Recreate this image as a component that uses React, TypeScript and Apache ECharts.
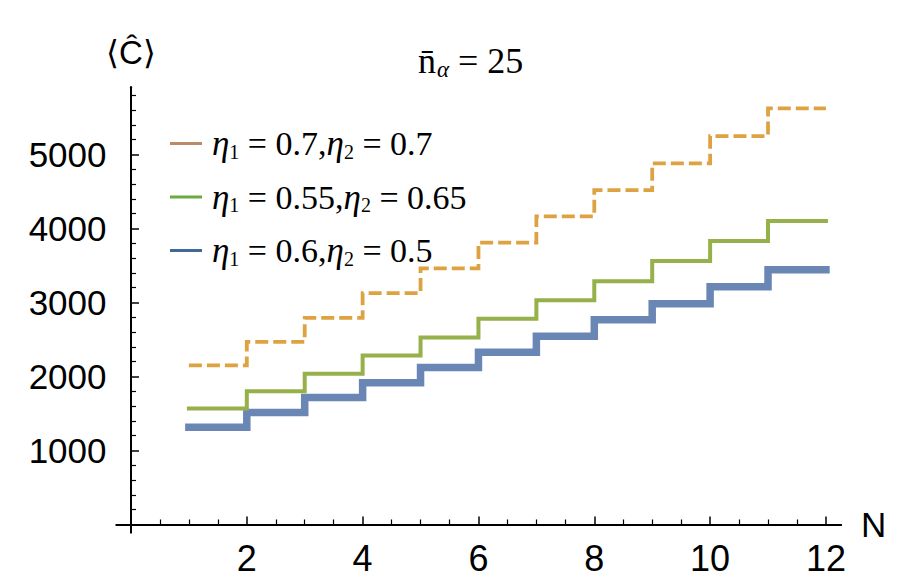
import React, { useEffect, useRef } from "react";
import * as echarts from "echarts";

// Step boundaries (N) and the value held on each step [N, N+1)
const stepN = [1, 2, 3, 4, 5, 6, 7, 8, 9, 10, 11, 12];
const seriesA = [2149, 2468, 2793, 3126, 3462, 3808, 4164, 4520, 4880, 5250, 5624]; // η1=0.7, η2=0.7
const seriesB = [1568, 1802, 2036, 2284, 2527, 2779, 3032, 3288, 3560, 3831, 4101]; // η1=0.55, η2=0.65
const seriesC = [1315, 1514, 1716, 1914, 2122, 2329, 2545, 2766, 2982, 3212, 3443]; // η1=0.6, η2=0.5

const legendEta = [
  ["0.7", "0.7"],
  ["0.55", "0.65"],
  ["0.6", "0.5"],
];
const seriesNames = ["A", "B", "C"];

const xTickLabels = [2, 4, 6, 8, 10, 12];
const yTickLabels = [1000, 2000, 3000, 4000, 5000];

const X_MIN = -0.25;
const X_MAX = 12.26;
const Y_MIN = -110;
const Y_MAX = 5910;

function stepData(values: number[]) {
  const d = values.map((v, i) => [stepN[i], v]);
  d.push([stepN[stepN.length - 1], values[values.length - 1]]);
  return d;
}

const xMinor: number[] = [];
for (let v = 0.5; v < 12; v += 0.5) if (v % 2 !== 0) xMinor.push(v);
const yMinor: number[] = [];
for (let v = 200; v < 5900; v += 200) if (v % 1000 !== 0) yMinor.push(v);

const SANS = "'Liberation Sans', Arial, Helvetica, sans-serif";
const SERIF = "'Liberation Serif', 'Times New Roman', serif";

export default function App() {
  const ref = useRef<HTMLDivElement>(null);
  useEffect(() => {
    if (!ref.current) return;
    const chart = echarts.init(ref.current, undefined, { renderer: "svg" });
    const gridPos = { left: 116.5, right: 63, top: 87.2, bottom: 49.4 };
    const axisLineStyle = { color: "#000", width: 2 };
    const option: any = {
      animation: false,
      backgroundColor: "#fff",
      title: {
        text: "{n|n\u0304}{a|α}{e| = 25}",
        left: 413,
        top: 35,
        textStyle: {
          fontWeight: "normal",
          rich: {
            n: { fontFamily: SERIF, fontSize: 36, fontWeight: "normal", color: "#000" },
            a: { fontFamily: SERIF, fontStyle: "italic", fontWeight: "normal", fontSize: 23, color: "#000", padding: [18, 0, 0, 1], verticalAlign: "bottom" },
            e: { fontFamily: SERIF, fontSize: 36, fontWeight: "normal", color: "#000" },
          },
        },
      },
      legend: {
        orient: "vertical",
        left: 165,
        top: 121,
        itemWidth: 32,
        itemHeight: 3,
        itemGap: 18,
        icon: "rect",
        selectedMode: false,
        data: [
          { name: "A", itemStyle: { color: "#B98B69" } },
          { name: "B", itemStyle: { color: "#6BAA3C" } },
          { name: "C", itemStyle: { color: "#3F6A97" } },
        ],
        formatter: (name: string) => {
          const i = seriesNames.indexOf(name);
          const [a, b] = legendEta[i];
          return `{e|η}{s|1}{t| = ${a},}{e|η}{s|2}{t| = ${b}}`;
        },
        textStyle: {
          padding: [0, 0, 0, 5],
          rich: {
            e: { fontFamily: SERIF, fontStyle: "italic", fontSize: 35, color: "#000" },
            s: { fontFamily: SERIF, fontSize: 20, color: "#000", padding: [16, 0, 0, 0], verticalAlign: "bottom" },
            t: { fontFamily: SERIF, fontSize: 34, color: "#000" },
          },
        },
      },
      grid: [
        { ...gridPos, outerBoundsMode: "none" },
        { ...gridPos, outerBoundsMode: "none" },
      ],
      xAxis: [
        {
          type: "value",
          gridIndex: 0,
          min: X_MIN,
          max: X_MAX,
          name: "N",
          nameLocation: "end",
          nameGap: 20,
          nameTextStyle: { fontFamily: SANS, fontSize: 35, color: "#000" },
          axisLine: { show: true, onZero: true, onZeroAxisIndex: 0, lineStyle: axisLineStyle },
          axisTick: { show: true, inside: true, length: 8, customValues: xTickLabels, lineStyle: { color: "#000", width: 1.5 } },
          axisLabel: { customValues: xTickLabels, formatter: (v: number) => String(v), fontFamily: SANS, fontSize: 36, color: "#000", margin: 8 },
          splitLine: { show: false },
        },
        {
          type: "value",
          gridIndex: 1,
          min: X_MIN,
          max: X_MAX,
          axisLine: { show: true, onZero: true, onZeroAxisIndex: 1, lineStyle: axisLineStyle },
          axisTick: { show: true, inside: true, length: 5, customValues: xMinor, lineStyle: { color: "#000", width: 1.2 } },
          axisLabel: { show: false },
          splitLine: { show: false },
        },
      ],
      yAxis: [
        {
          type: "value",
          gridIndex: 0,
          min: Y_MIN,
          max: Y_MAX,
          name: "⟨Ĉ⟩",
          nameLocation: "end",
          nameGap: 18,
          nameTextStyle: { fontFamily: SANS, fontSize: 33, color: "#000", align: "center" },
          axisLine: { show: true, onZero: true, onZeroAxisIndex: 0, lineStyle: axisLineStyle },
          axisTick: { show: true, inside: true, length: 8, customValues: yTickLabels, lineStyle: { color: "#000", width: 1.5 } },
          axisLabel: { customValues: yTickLabels, formatter: (v: number) => String(v), fontFamily: SANS, fontSize: 35, color: "#000", margin: 10 },
          splitLine: { show: false },
        },
        {
          type: "value",
          gridIndex: 1,
          min: Y_MIN,
          max: Y_MAX,
          axisLine: { show: true, onZero: true, onZeroAxisIndex: 1, lineStyle: axisLineStyle },
          axisTick: { show: true, inside: true, length: 5, customValues: yMinor, lineStyle: { color: "#000", width: 1.2 } },
          axisLabel: { show: false },
          splitLine: { show: false },
        },
      ],
      series: [
        {
          name: "C",
          type: "line",
          step: "end",
          symbol: "none",
          xAxisIndex: 0,
          yAxisIndex: 0,
          data: stepData(seriesC),
          lineStyle: { color: "#6A86B5", width: 7.5, cap: "square", join: "miter" },
          itemStyle: { color: "#3F6A97" },
        },
        {
          name: "B",
          type: "line",
          step: "end",
          symbol: "none",
          xAxisIndex: 0,
          yAxisIndex: 0,
          data: stepData(seriesB),
          lineStyle: { color: "#96B04A", width: 4, cap: "square", join: "miter" },
          itemStyle: { color: "#6BAA3C" },
        },
        {
          name: "A",
          type: "line",
          step: "end",
          symbol: "none",
          xAxisIndex: 0,
          yAxisIndex: 0,
          data: stepData(seriesA),
          lineStyle: { color: "#DEA243", width: 3.8, type: [13, 5], join: "miter" },
          itemStyle: { color: "#B98B69" },
        },
      ],
    };
    chart.setOption(option);
    return () => chart.dispose();
  }, []);
  return (
    <div
      ref={ref}
      style={{ position: "fixed", left: 0, top: 0, width: 904, height: 582, background: "#fff" }}
    />
  );
}
